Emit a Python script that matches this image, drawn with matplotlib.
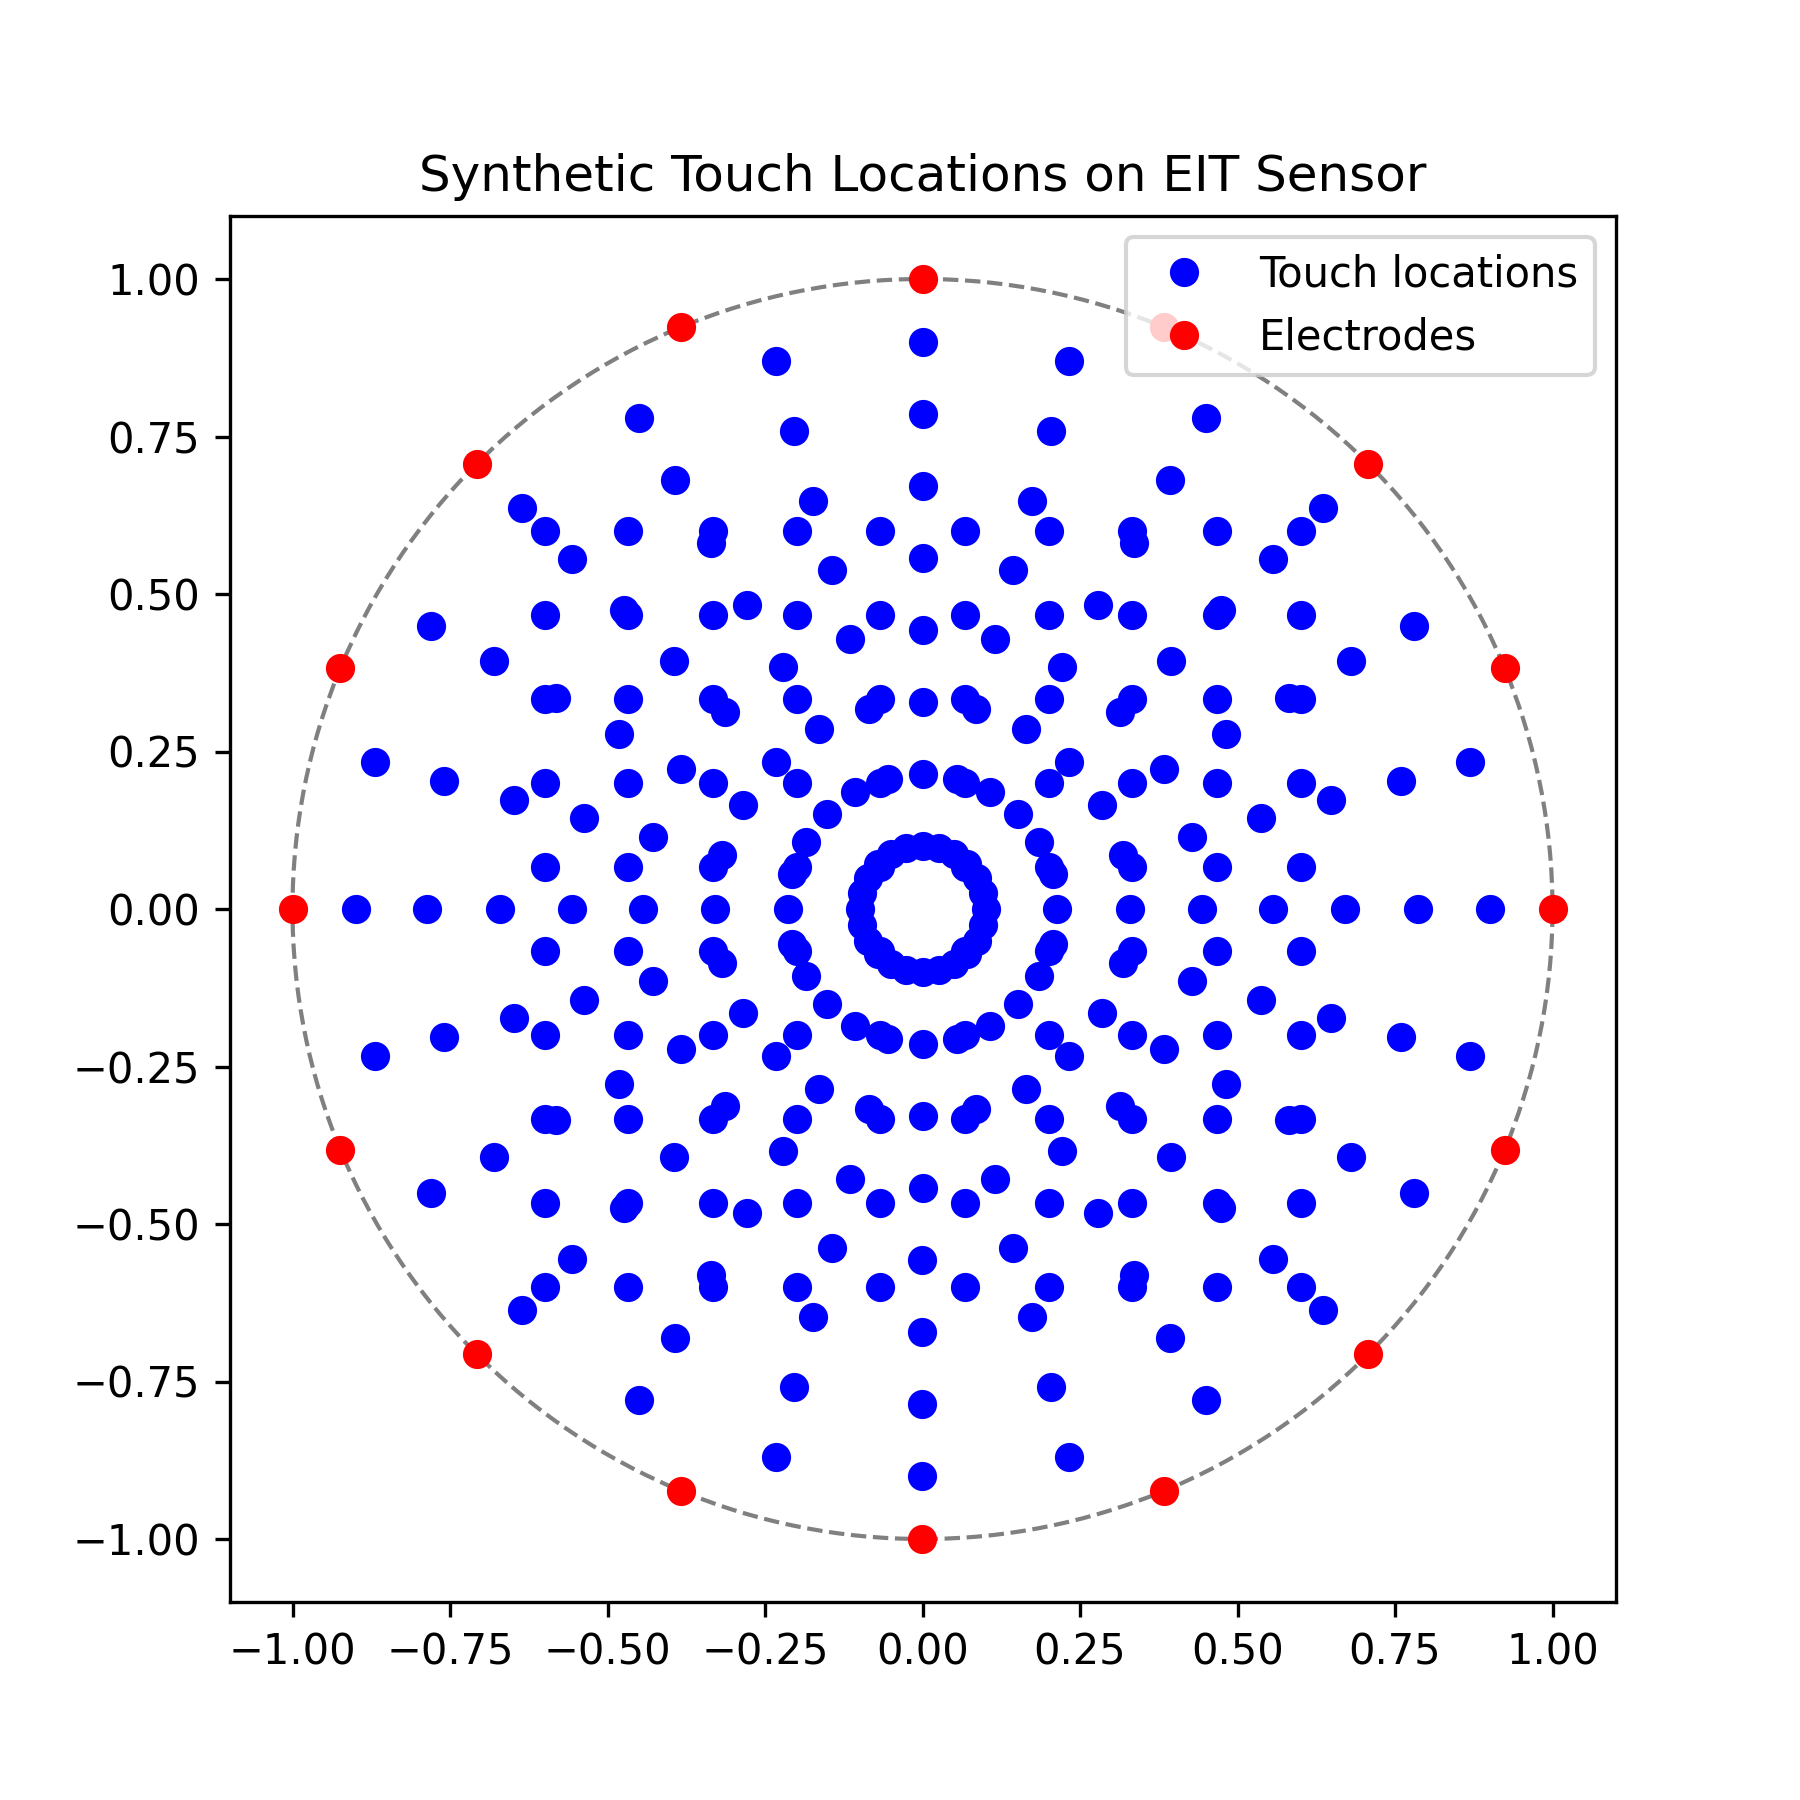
import numpy as np
import matplotlib
matplotlib.use("Agg")
import matplotlib.pyplot as plt

# polar touch pattern: rings x angles
ring_radii = [0.1, 0.214, 0.329, 0.443, 0.557, 0.671, 0.786, 0.9]
ring_angles_deg = [0, 15, 30, 45, 60, 75, 90, 105, 120, 135, 150, 165,
                   180, 195, 210, 225, 240, 255, 270, 285, 300, 315, 330, 345]

# cartesian touch grid
grid_coords = [-0.6, -0.467, -0.333, -0.2, -0.067, 0.067, 0.2, 0.333, 0.467, 0.6]

# 16 electrodes on the unit circle
electrode_radius = 1.0
electrode_angles_deg = [0, 22.5, 45, 67.5, 90, 112.5, 135, 157.5,
                        180, 202.5, 225, 247.5, 270, 292.5, 315, 337.5]

# build touch point coordinates
r, a = np.meshgrid(ring_radii, np.deg2rad(ring_angles_deg))
polar_x = (r * np.cos(a)).ravel()
polar_y = (r * np.sin(a)).ravel()
gx, gy = np.meshgrid(grid_coords, grid_coords)
touch_x = np.concatenate([polar_x, gx.ravel()])
touch_y = np.concatenate([polar_y, gy.ravel()])

ea = np.deg2rad(electrode_angles_deg)
elec_x = electrode_radius * np.cos(ea)
elec_y = electrode_radius * np.sin(ea)

fig, ax = plt.subplots(figsize=(6, 6))
ax.add_patch(plt.Circle((0, 0), electrode_radius, fill=False, linestyle='--', color='gray'))
ax.plot(touch_x, touch_y, 'bo', label='Touch locations')
ax.plot(elec_x, elec_y, 'ro', label='Electrodes')
ax.set_xlim(-1.1, 1.1)
ax.set_ylim(-1.1, 1.1)
ax.set_aspect('equal')
ax.set_title('Synthetic Touch Locations on EIT Sensor')
ax.legend(loc='upper right')

plt.savefig('out.png', dpi=300)
